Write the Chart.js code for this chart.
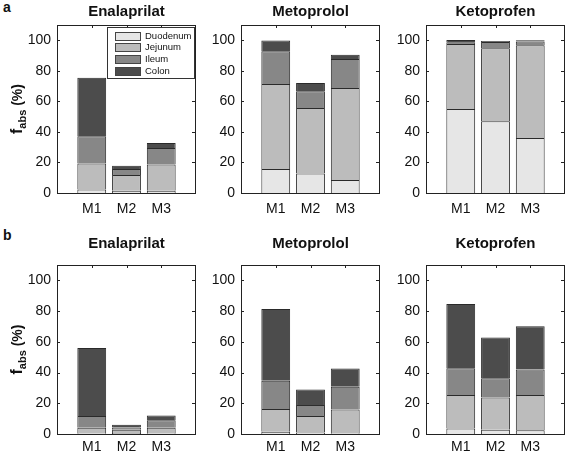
<!DOCTYPE html>
<html>
<head>
<meta charset="utf-8">
<script src="https://cdn.jsdelivr.net/npm/chart.js@4"></script>
<style>
  body { margin: 0; background: #fff; }
  #wrap { position: relative; width: 567px; height: 457px; overflow: hidden; font-family: 'Liberation Sans', Arial, sans-serif; }
  .panel { position: absolute; }
  .letter { position: absolute; font-weight: bold; font-size: 14px; color: #111; }
</style>
</head>
<body>
<div id="wrap">
  <div class="letter" style="left:3px;top:-1px;">a</div>
  <div class="letter" style="left:3px;top:227px;">b</div>
</div>
<script>
// categories and segments
const categories = ['M1', 'M2', 'M3'];
const segments = ['Duodenum', 'Jejunum', 'Ileum', 'Colon'];
const segmentColors = ['#e6e6e6', '#bcbcbc', '#878787', '#4c4c4c'];
const yTicks = [0, 20, 40, 60, 80, 100];

// each row = one segment (Duodenum, Jejunum, Ileum, Colon), values for M1..M3 (% absorbed)
// panel a
const enalaprilatA = [[2.3, 1.5, 1.5], [17.0, 10.3, 17.1], [17.9, 3.9, 10.9], [38.2, 2.2, 3.3]];
const metoprololA  = [[15.7, 12.7, 8.5], [55.7, 43.0, 60.3], [21.4, 10.9, 19.0], [7.0, 5.4, 2.8]];
const ketoprofenA  = [[55.0, 47.0, 36.0], [42.6, 47.8, 60.7], [1.1, 4.0, 2.5], [1.5, 0.8, 0.8]];
// panel b
const enalaprilatB = [[0.5, 0.6, 0.5], [3.6, 2.2, 3.6], [7.6, 1.5, 4.8], [44.2, 1.8, 3.1]];
const metoprololB  = [[1.5, 0.9, 0.5], [14.8, 10.8, 15.4], [18.3, 7.2, 14.8], [46.7, 10.0, 11.9]];
const ketoprofenB  = [[3.5, 2.8, 2.4], [21.9, 20.9, 23.0], [17.4, 12.6, 16.6], [41.8, 26.5, 28.2]];

const FONT = "'Liberation Sans', Arial, sans-serif";
// matlab style axis: blank slot either side of the three bars
const xLabels = [''].concat(categories, ['']);

// frame box, inward tick marks, legend and y title
const framePlugin = {
    id: 'frame',
    afterDatasetsDraw(chart, args, opts) {
        const ctx = chart.ctx;
        const a = chart.chartArea;
        const xs = chart.scales.x, ys = chart.scales.y;
        ctx.save();
        ctx.strokeStyle = '#222';
        ctx.lineWidth = 1;
        ctx.strokeRect(Math.round(a.left) + 0.5, Math.round(a.top) + 0.5,
            Math.round(a.right - a.left) - 1, Math.round(a.bottom - a.top));
        ctx.beginPath();
        categories.forEach((c, i) => {
            const px = Math.round(xs.getPixelForValue(i + 1)) + 0.5;
            ctx.moveTo(px, a.top); ctx.lineTo(px, a.top + 3);
        });
        ys.ticks.forEach(t => {
            const py = Math.round(ys.getPixelForValue(t.value)) + 0.5;
            ctx.moveTo(a.left, py); ctx.lineTo(a.left + 3, py);
            ctx.moveTo(a.right - 1, py); ctx.lineTo(a.right - 4, py);
        });
        ctx.stroke();

        if (opts.legend) {
            const bw = 87, bh = 51;
            const bx = Math.round(a.right) - bw - 1.5, by = Math.round(a.top) + 2.5;
            ctx.fillStyle = '#fff';
            ctx.fillRect(bx, by, bw, bh);
            ctx.strokeStyle = '#333';
            ctx.strokeRect(bx, by, bw, bh);
            ctx.font = '9.5px ' + FONT;
            ctx.textBaseline = 'middle';
            ctx.textAlign = 'left';
            chart.data.datasets.forEach((ds, i) => {
                const cy = by + 8 + i * 11.7;
                ctx.fillStyle = ds.backgroundColor;
                ctx.fillRect(bx + 8, Math.round(cy - 4), 25, 8);
                ctx.strokeStyle = '#444';
                ctx.strokeRect(bx + 8, Math.round(cy - 4) + 0.5, 25, 8);
                ctx.fillStyle = '#111';
                ctx.fillText(ds.label, bx + 37.5, cy + 0.5);
            });
        }

        if (opts.yTitle) {
            const cx = 17, cy = (a.top + a.bottom) / 2;
            ctx.translate(cx, cy);
            ctx.rotate(-Math.PI / 2);
            ctx.fillStyle = '#111';
            ctx.textBaseline = 'alphabetic';
            ctx.textAlign = 'left';
            const parts = [
                { t: 'f', f: 'bold 16px ' + FONT, dy: 0 },
                { t: 'abs', f: 'bold 11px ' + FONT, dy: 4 },
                { t: ' (%)', f: 'bold 14px ' + FONT, dy: 0 }
            ];
            let total = 0;
            parts.forEach(p => { ctx.font = p.f; p.w = ctx.measureText(p.t).width; total += p.w; });
            let x = -total / 2;
            parts.forEach(p => {
                ctx.font = p.f;
                ctx.fillText(p.t, x, 5 + p.dy);
                x += p.w;
            });
        }
        ctx.restore();
    }
};

function makePanel(title, rows, left, top, col, row, legend) {
    const frameLeft = left;
    const yW = col === 0 ? frameLeft : 44;
    const frameW = 139;
    const width = yW + frameW + 2;
    const height = row === 0 ? 228 : 229;

    const div = document.createElement('div');
    div.className = 'panel';
    div.style.left = (frameLeft - yW) + 'px';
    div.style.top = top + 'px';
    div.style.width = width + 'px';
    div.style.height = height + 'px';
    const canvas = document.createElement('canvas');
    div.appendChild(canvas);
    document.getElementById('wrap').appendChild(div);

    const datasets = segments.map((seg, i) => ({
        label: seg,
        data: [null].concat(rows[i], [null]),
        backgroundColor: segmentColors[i],
        borderColor: '#2a2a2a',
        borderWidth: 1,
        borderSkipped: 'start',
        barPercentage: 0.83,
        categoryPercentage: 1
    }));

    new Chart(canvas, {
        type: 'bar',
        data: { labels: xLabels, datasets: datasets },
        options: {
            responsive: true,
            maintainAspectRatio: false,
            animation: false,
            layout: { padding: { right: 2, left: 0, top: 0, bottom: 0 } },
            scales: {
                x: {
                    stacked: true,
                    offset: false,
                    grid: { display: false, drawTicks: false, tickLength: 0, offset: false },
                    border: { display: false },
                    afterFit: s => {
                        s.height = row === 0 ? 35 : 23;
                        // no extra side padding from the (blank) edge labels
                        s.paddingLeft = 0;
                        s.paddingRight = 0;
                    },
                    ticks: {
                        autoSkip: false,
                        maxRotation: 0,
                        padding: row === 0 ? 8 : 5,
                        color: '#111',
                        font: { family: FONT, size: 14 }
                    }
                },
                y: {
                    stacked: true,
                    min: 0,
                    max: 110,
                    grid: { display: false, drawTicks: false, tickLength: 0 },
                    border: { display: false },
                    afterBuildTicks: s => { s.ticks = yTicks.map(v => ({ value: v })); },
                    afterFit: s => { s.width = yW; },
                    ticks: {
                        padding: 6,
                        color: '#111',
                        font: { family: FONT, size: 14 }
                    }
                }
            },
            plugins: {
                legend: { display: false },
                tooltip: { enabled: false },
                title: {
                    display: true,
                    fullSize: false,
                    text: title,
                    color: '#111',
                    font: { family: FONT, size: 15, weight: 'bold', lineHeight: 1.2 },
                    padding: row === 0 ? { top: 3, bottom: 4 } : { top: 7, bottom: 12 }
                },
                frame: { legend: legend, yTitle: col === 0 }
            }
        },
        plugins: [framePlugin]
    });
}

const frameLefts = [57, 241, 426];
makePanel('Enalaprilat', enalaprilatA, frameLefts[0], 0, 0, 0, true);
makePanel('Metoprolol', metoprololA, frameLefts[1], 0, 1, 0, false);
makePanel('Ketoprofen', ketoprofenA, frameLefts[2], 0, 2, 0, false);
makePanel('Enalaprilat', enalaprilatB, frameLefts[0], 228, 0, 1, false);
makePanel('Metoprolol', metoprololB, frameLefts[1], 228, 1, 1, false);
makePanel('Ketoprofen', ketoprofenB, frameLefts[2], 228, 2, 1, false);
</script>
</body>
</html>
